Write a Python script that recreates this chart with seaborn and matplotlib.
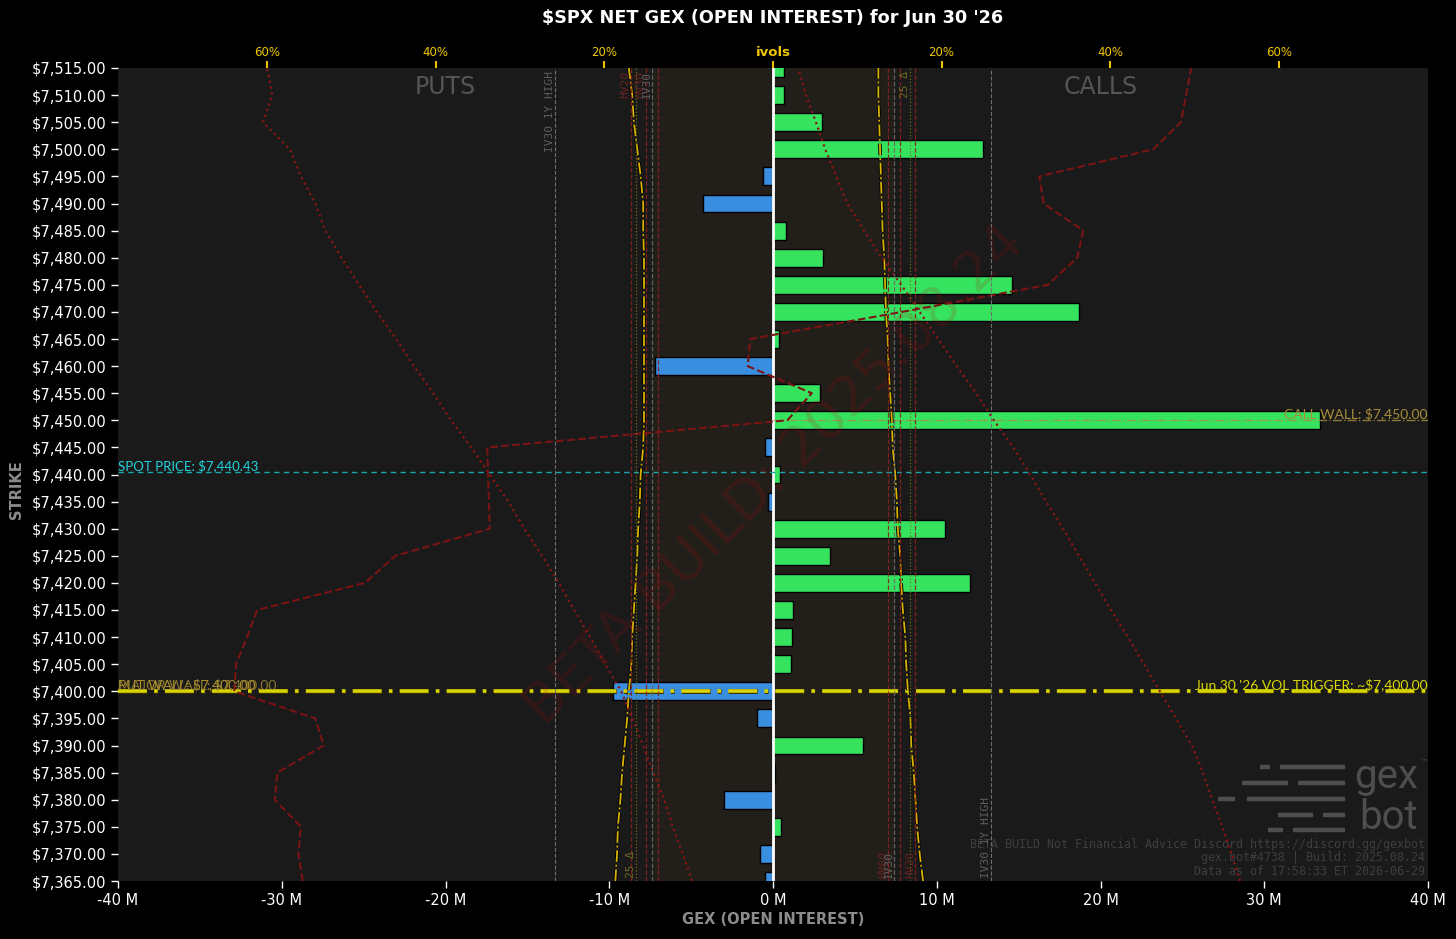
"""
$SPX net GEX (open interest) by strike, with the ivol overlay on a twin axis.
"""

import numpy as np
import pandas as pd
import matplotlib.pyplot as plt
import matplotlib.patheffects as pe
from matplotlib.lines import Line2D
import seaborn as sns

# strikes, top to bottom
strikes = [7515, 7510, 7505, 7500, 7495, 7490, 7485, 7480, 7475, 7470,
           7465, 7460, 7455, 7450, 7445, 7440, 7435, 7430, 7425, 7420,
           7415, 7410, 7405, 7400, 7395, 7390, 7385, 7380, 7375, 7370, 7365]

# net gex in millions
net_gex_m = [0.67, 0.67, 3.0, 12.8, -0.6, -4.3, 0.8, 3.05, 14.6, 18.7,
             0.37, -7.2, 2.9, 33.4, -0.5, 0.4, -0.3, 10.5, 3.5, 12.0,
             1.2, 1.15, 1.1, -9.8, -1.0, 5.5, 0.1, -3.0, 0.5, -0.8, -0.5]

# ivol curves in % (put side is drawn to the left)
put_25d_iv = [17.1, 16.7, 16.5, 16.1, 15.7, 15.4, 15.4, 15.3, 15.3, 15.3,
              15.3, 15.3, 15.3, 15.3, 15.4, 15.7, 15.8, 16.0, 16.1, 16.3,
              16.5, 16.7, 16.8, 17.1, 17.3, 17.6, 17.9, 18.1, 18.4, 18.5, 18.7]
call_25d_iv = [12.5, 12.5, 12.6, 12.7, 12.8, 12.9, 13.0, 13.2, 13.3, 13.4,
               13.6, 13.7, 13.9, 14.1, 14.2, 14.5, 14.7, 14.8, 15.1, 15.2,
               15.4, 15.7, 15.8, 16.0, 16.3, 16.4, 16.7, 16.9, 17.1, 17.4, 17.8]
put_skew_iv = [60.0, 59.4, 60.5, 57.3, 56.0, 54.3, 53.1, 51.2, 49.1, 47.0,
               44.7, 42.6, 40.3, 38.2, 35.8, 33.6, 31.4, 29.5, 27.4, 25.4,
               23.6, 21.7, 19.9, 18.0, 16.7, 15.4, 14.2, 12.9, 11.9, 10.7, 9.6]
call_skew_iv = [3.0, 3.9, 5.1, 6.2, 7.5, 8.8, 10.8, 12.9, 15.2, 17.4,
                19.6, 21.8, 24.1, 26.2, 28.5, 30.5, 32.4, 34.4, 36.3, 38.2,
                40.1, 42.1, 44.0, 45.9, 47.8, 49.7, 51.0, 52.1, 53.3, 54.4, 55.4]
gex_profile = [49.6, 49.0, 48.4, 45.1, 31.6, 32.1, 36.8, 36.1, 32.6, 15.3,
               -2.7, -3.0, 4.6, 1.7, -33.9, -33.8, -33.7, -33.6, -44.8, -48.4,
               -61.2, -62.4, -63.7, -63.9, -54.3, -53.3, -58.8, -59.1, -56.0, -56.3, -55.8]

# reference vol levels (mirrored on both sides)
level_names = ['HV20', '25 Δ', 'HV30', 'IV30', 'HV60']
level_values = [16.9, 16.2, 15.1, 14.4, 13.7]
iv30_1y_high = 25.9

spot_price = 7440.43
call_wall = 7450
put_wall = 7400
vol_trigger = 7400

x_ticks_m = [-40, -30, -20, -10, 0, 10, 20, 30, 40]
iv_ticks = [-60, -40, -20, 0, 20, 40, 60]
iv_tick_labels = ['60%', '40%', '20%', 'ivols', '20%', '40%', '60%']

BG = '#1a1a1a'
GREEN = '#35e35f'
BLUE = '#3a8ee0'
DARK_RED = '#7a1414'
YELLOW = '#d8b400'

sns.set_style('dark')
plt.rcParams['font.family'] = ['DejaVu Sans']
plt.rcParams['axes.unicode_minus'] = False

fig = plt.figure(figsize=(14.56, 9.39), dpi=100, facecolor='black')
rect = [118 / 1456, 1 - 881 / 939, 1310 / 1456, 813 / 939]
ax = fig.add_axes(rect)

# background axis (dark panel + band around the IV30 levels)
bg = ax.twiny()
bg.set_zorder(-1)
bg.patch.set_visible(True)
bg.set_facecolor(BG)
ax.patch.set_visible(False)
bg.set_xlim(-77.7, 77.7)
iv30 = level_values[level_names.index('IV30')]
bg.axvspan(-iv30, iv30, color='#6a4a18', alpha=0.1, linewidth=0)
bg.set_xticks([])
for s in bg.spines.values():
    s.set_visible(False)

# bars
df = pd.DataFrame({'strike': strikes, 'gex': net_gex_m})
df['side'] = np.where(df['gex'] >= 0, 'pos', 'neg')
sns.barplot(data=df, x='gex', y='strike', hue='side', orient='y',
            native_scale=True, dodge=False, width=0.66, errorbar=None,
            palette={'pos': GREEN, 'neg': BLUE}, saturation=1,
            edgecolor='black', linewidth=1, legend=False, ax=ax)

ax.set_xlim(-40, 40)
ax.set_ylim(7365, 7515)
ax.axvline(0, color='white', lw=2, zorder=6)

ax.set_yticks(strikes)
ax.set_yticklabels([f'${s:,.2f}' for s in strikes])
ax.set_xticks(x_ticks_m)
ax.set_xticklabels([f'{t} M' for t in x_ticks_m])
ax.tick_params(axis='both', colors='white', labelsize=10.5, length=5,
               width=1, left=True, bottom=True)
ax.set_xlabel('')
ax.set_ylabel('')
for s in ax.spines.values():
    s.set_visible(False)

# spot / walls
ax.axhline(spot_price, color='#1aa5ab', ls='--', lw=1, dashes=(4, 3), zorder=7)
ax.text(-40, spot_price, 'SPOT PRICE: $7,440.43', color='#22d3df',
        fontsize=9.5, family='Lato', ha='left', va='bottom', zorder=8)
ax.hlines(call_wall, 0, 40, color='#a89040', linestyles='-.', lw=1, alpha=0.8, zorder=7)
ax.text(40, call_wall, 'CALL WALL: $7,450.00', color='#a88c38',
        fontsize=10, family='Lato', ha='right', va='bottom', zorder=8)
ax.axhline(put_wall, color='#d8d400', lw=2.6, dashes=(8, 2, 1, 2), zorder=7,
           path_effects=[pe.Stroke(linewidth=3.6, foreground='#3a3000'), pe.Normal()])
ax.text(-40, put_wall, 'PUT WALL: $7,400.00', color='#b08e2c',
        fontsize=10, family='Lato', ha='left', va='bottom', zorder=8)
ax.text(-40, put_wall, 'MAJOR WALL: $7,400.00', color='#9c8830', alpha=0.85,
        fontsize=10, family='Lato', ha='left', va='bottom', zorder=8)
ax.text(40, vol_trigger, "Jun 30 '26 VOL TRIGGER: ~$7,400.00", color='#d8d600',
        fontsize=10, family='Lato', ha='right', va='bottom', zorder=8)

# ivol overlay
ax2 = ax.twiny()
ax2.set_xlim(-77.7, 77.7)
ax2.patch.set_visible(False)
for s in ax2.spines.values():
    s.set_visible(False)

outline = [pe.Stroke(linewidth=2.6, foreground='black'), pe.Normal()]
sns.lineplot(x=[-v for v in put_25d_iv], y=strikes, orient='y', sort=True, ax=ax2,
             color=YELLOW, lw=1.3, linestyle='-.', path_effects=outline)
sns.lineplot(x=call_25d_iv, y=strikes, orient='y', sort=True, ax=ax2,
             color=YELLOW, lw=1.3, linestyle='-.', path_effects=outline)
sns.lineplot(x=[-v for v in put_skew_iv], y=strikes, orient='y', sort=True, ax=ax2,
             color='#8a1515', lw=1.6, linestyle=':')
sns.lineplot(x=call_skew_iv, y=strikes, orient='y', sort=True, ax=ax2,
             color='#8a1515', lw=1.6, linestyle=':')
sns.lineplot(x=gex_profile, y=strikes, orient='y', sort=True, ax=ax2,
             color=DARK_RED, lw=1.5, linestyle='--')

level_colors = {'HV20': '#8a2020', '25 Δ': '#7a7a10', 'HV30': '#8a2020',
                'IV30': '#6a6a6a', 'HV60': '#8a2020'}
level_styles = {'HV20': '--', '25 Δ': ':', 'HV30': '--', 'IV30': '--', 'HV60': '--'}
for name, val in zip(level_names, level_values):
    for sgn in (-1, 1):
        ax2.axvline(sgn * val, color=level_colors[name], ls=level_styles[name],
                    lw=0.9, alpha=0.9)
for sgn in (-1, 1):
    ax2.axvline(sgn * iv30_1y_high, color='#6e6e6e', ls='--', lw=0.8)

lab_kw = dict(rotation=90, family='DejaVu Sans Mono', fontsize=8)
txt_col = {'HV20': '#6a2222', 'HV30': '#6a2222', 'IV30': '#5e5e5e',
           'HV60': '#6a2222', '25 Δ': '#6e6a22'}
ax2.text(-iv30_1y_high, 7514.5, 'IV30 1Y HIGH', ha='right', va='top', color='#5e5e5e', **lab_kw)
ax2.text(iv30_1y_high, 7365.5, 'IV30 1Y HIGH', ha='right', va='bottom', color='#5e5e5e', **lab_kw)
for name in ['HV20', 'HV30', 'IV30']:
    v = level_values[level_names.index(name)]
    ax2.text(-v, 7514.5, name, ha='right', va='top', color=txt_col[name], **lab_kw)
for name in ['HV60', 'IV30', 'HV20']:
    v = level_values[level_names.index(name)]
    ax2.text(v, 7365.5, name, ha='right', va='bottom', color=txt_col[name], **lab_kw)
v25 = level_values[level_names.index('25 Δ')]
ax2.text(v25, 7514.5, '25 Δ', ha='right', va='top', color=txt_col['25 Δ'], **lab_kw)
ax2.text(-v25, 7365.5, '25 Δ', ha='right', va='bottom', color=txt_col['25 Δ'], **lab_kw)

ax2.set_xticks(iv_ticks)
ax2.set_xticklabels(iv_tick_labels)
ax2.tick_params(axis='x', colors='#e8c200', labelsize=8.5, length=5, width=1.5,
                top=True, pad=1.5)
for lbl in ax2.get_xticklabels():
    lbl.set_color('#f0c800')
ax2.get_xticklabels()[3].set_fontweight('bold')
ax2.get_xticklabels()[3].set_fontsize(9.5)
ax2.set_xlabel('')
ax2.set_ylabel('')

# side labels and watermarks
ax.text(0.25, 0.9766, 'PUTS', transform=ax.transAxes, ha='center', va='center',
        fontsize=17, color='#555555')
ax.text(0.75, 0.9766, 'CALLS', transform=ax.transAxes, ha='center', va='center',
        fontsize=17, color='#555555')
ax.text(0.5015, 0.499, 'BETA BUILD: 2025.08.24', transform=ax.transAxes,
        ha='center', va='center', rotation=45, fontsize=40, color='#b01010',
        alpha=0.16, zorder=9)

mono = dict(transform=ax.transAxes, ha='right', va='center', family='DejaVu Sans Mono',
            fontsize=8.4, color='#3e3e3e', zorder=9)
ax.text(0.9977, 0.0443, 'BETA BUILD Not Financial Advice Discord https://discord.gg/gexbot', **mono)
ax.text(0.9977, 0.0283, 'gex.bot#4738 | Build: 2025.08.24', **mono)
ax.text(0.9977, 0.0111, 'Data as of 17:58:33 ET 2026-06-29', **mono)

# gexbot logo
ax.text(0.9924, 0.128, 'gex', transform=ax.transAxes, ha='right', va='center',
        family='Roboto', fontsize=29, color='#4e4e4e', zorder=9)
ax.text(0.9924, 0.0775, 'bot', transform=ax.transAxes, ha='right', va='center',
        family='Roboto', fontsize=29, color='#4e4e4e', zorder=9)
ax.text(0.9945, 0.147, '™', transform=ax.transAxes, ha='left', va='center',
        fontsize=5, color='#4e4e4e', zorder=9)
logo_rows = [(0.1402, [(0.8718, 0.8794), (0.8870, 0.9366)]),
             (0.1205, [(0.8580, 0.8931), (0.9008, 0.9366)]),
             (0.1009, [(0.8397, 0.8527), (0.8618, 0.9366)]),
             (0.0812, [(0.8855, 0.9122), (0.9198, 0.9366)]),
             (0.0627, [(0.8779, 0.8893), (0.8969, 0.9366)])]
for yy, segs in logo_rows:
    for x0, x1 in segs:
        ax.add_line(Line2D([x0, x1], [yy, yy], transform=ax.transAxes, lw=3.2,
                           color='#4e4e4e', solid_capstyle='butt', zorder=9))

fig.text(773 / 1456, 1 - 18 / 939, "$SPX NET GEX (OPEN INTEREST) for Jun 30 '26",
         ha='center', va='center', color='white', fontsize=12.7, fontweight='bold')
fig.text(17 / 1456, 1 - 490 / 939, 'STRIKE', rotation=90, ha='center', va='center',
         color='#8c8c8c', fontsize=10.5, fontweight='bold')
fig.text(773 / 1456, 1 - 920 / 939, 'GEX (OPEN INTEREST)', ha='center', va='center',
         color='#8c8c8c', fontsize=10.5, fontweight='bold')

fig.savefig('out.png', dpi=100, facecolor='black')
